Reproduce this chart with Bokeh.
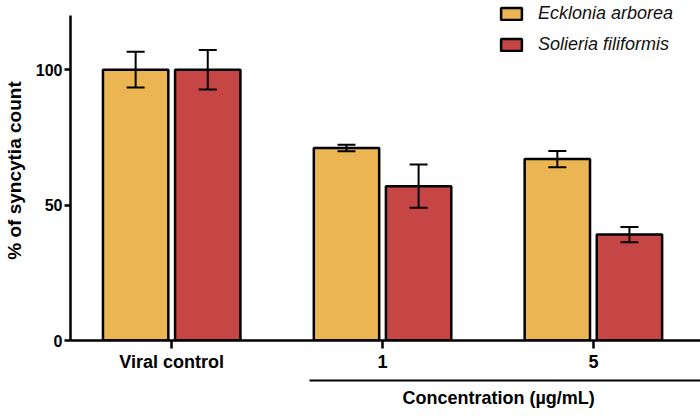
from bokeh.plotting import figure
from bokeh.models import (ColumnDataSource, FixedTicker, LinearAxis, Range1d,
                          Whisker, TeeHead, Legend, LegendItem, Title)
from bokeh.transform import dodge
from bokeh.embed import file_html
from bokeh.resources import INLINE

# ---- data ----
groups = ["Viral control", "1", "5"]
ecklonia = [100, 71.1, 67.0]
ecklonia_err = [6.6, 1.2, 3.0]
solieria = [100, 57.0, 39.1]
solieria_err = [7.3, 8.0, 2.8]
y_ticks = [0, 50, 100]
y_max = 120
x_title = "Concentration (µg/mL)"
y_title = "% of syncytia count"

YELLOW = "#ECB553"
RED = "#C64545"
FONT = "Liberation Sans"

idx = list(range(len(groups)))
src = ColumnDataSource(dict(
    x=idx,
    e=ecklonia,
    e_up=[v + d for v, d in zip(ecklonia, ecklonia_err)],
    e_lo=[v - d for v, d in zip(ecklonia, ecklonia_err)],
    s=solieria,
    s_up=[v + d for v, d in zip(solieria, solieria_err)],
    s_lo=[v - d for v, d in zip(solieria, solieria_err)],
))

# frame reaches the top of the canvas; the y axis line stops at y_max
p = figure(width=700, height=416, output_backend="svg", toolbar_location=None,
           x_range=Range1d(-0.48, 2.508), y_range=Range1d(0, 125.54),
           min_border_left=68, min_border_right=0, min_border_top=0,
           min_border_bottom=76)
p.outline_line_color = None
p.xgrid.grid_line_color = None
p.ygrid.grid_line_color = None

off = 0.171
bw = 0.31
r1 = p.vbar(x=dodge("x", -off, range=p.x_range), top="e", width=bw, source=src,
            fill_color=YELLOW, line_color="black", line_width=2.5)
r2 = p.vbar(x=dodge("x", off, range=p.x_range), top="s", width=bw, source=src,
            fill_color=RED, line_color="black", line_width=2.5)

for col, o in (("e", -off), ("s", off)):
    w = Whisker(base=dodge("x", o, range=p.x_range), upper=col + "_up",
                lower=col + "_lo", source=src, dimension="height",
                line_width=2, line_color="black", level="overlay",
                upper_head=TeeHead(size=18, line_width=2, line_color="black"),
                lower_head=TeeHead(size=18, line_width=2, line_color="black"))
    p.add_layout(w)

# y axis
ya = p.yaxis[0]
ya.bounds = (0, y_max)
ya.ticker = FixedTicker(ticks=y_ticks)
ya.minor_tick_line_color = None
ya.major_tick_in = 0
ya.major_tick_out = 6
ya.axis_line_width = 2.5
ya.major_tick_line_width = 2.5
ya.major_label_text_font = FONT
ya.major_label_text_font_style = "bold"
ya.major_label_text_font_size = "16px"
ya.major_label_text_color = "black"
ya.major_label_standoff = 2
ya.axis_label = y_title
ya.axis_label_text_font = FONT
ya.axis_label_text_font_style = "bold"
ya.axis_label_text_font_size = "19px"
ya.axis_label_text_color = "black"
ya.axis_label_standoff = 8

# x axis
xa = p.xaxis[0]
xa.ticker = FixedTicker(ticks=idx)
xa.major_label_overrides = {i: g for i, g in zip(idx, groups)}
xa.minor_tick_line_color = None
xa.major_tick_in = 0
xa.major_tick_out = 8
xa.axis_line_width = 2.5
xa.major_tick_line_width = 2.5
xa.major_label_text_font = FONT
xa.major_label_text_font_style = "bold"
xa.major_label_text_font_size = "18px"
xa.major_label_text_color = "black"
xa.major_label_standoff = 3
# blank label only to push the concentration rule further down
xa.axis_label = " "
xa.axis_label_text_font_size = "3px"
xa.axis_label_standoff = 0

# concentration rule (second axis, below, limited extent)
ca = LinearAxis(bounds=(0.652, 2.508), ticker=FixedTicker(ticks=[]),
                axis_line_width=2, major_tick_out=0, major_tick_in=0,
                minor_tick_line_color=None, major_label_text_font_size="0px")
p.add_layout(ca, "below")

p.add_layout(Title(text=x_title, align="left", offset=332, standoff=10,
                   text_font=FONT, text_font_style="bold",
                   text_font_size="18px", text_color="black"), "below")

legend = Legend(items=[LegendItem(label="Ecklonia arborea", renderers=[r1]),
                       LegendItem(label="Solieria filiformis", renderers=[r2])],
                location=(428, 285), glyph_width=26, glyph_height=15,
                label_height=21, spacing=10, padding=0, margin=0,
                label_standoff=14, border_line_color=None,
                background_fill_alpha=0, label_text_font=FONT,
                label_text_font_style="italic", label_text_font_size="18px",
                label_text_color="#111111")
p.add_layout(legend)

open("out.html", "w").write(file_html(p, INLINE))
